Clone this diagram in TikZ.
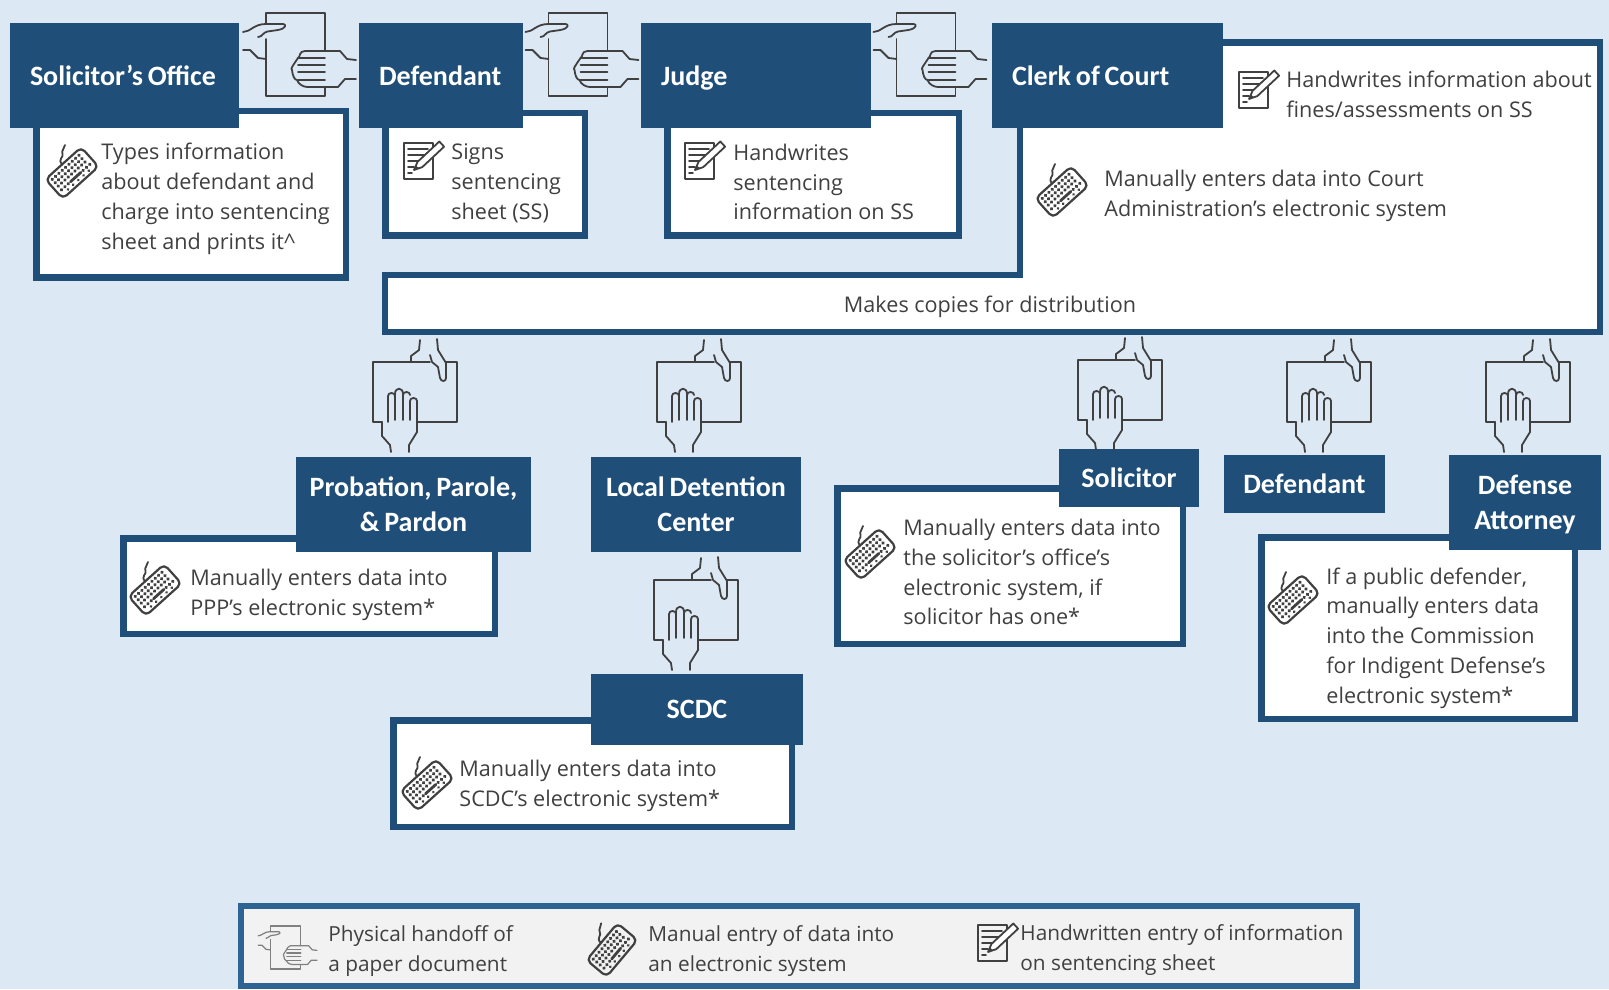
\documentclass[tikz,border=0pt]{standalone}
\usepackage{fontspec}
\setmainfont{Open Sans}
\newfontfamily\headfont[Ligatures=TeX]{Carlito}
\definecolor{pagebg}{HTML}{DDE8F5}
\definecolor{hdrblue}{HTML}{1F4E79}
\definecolor{inkgray}{HTML}{404040}
\definecolor{legendgray}{HTML}{F2F2F2}
\definecolor{legendline}{HTML}{2E6494}

\tikzset{
  headbox/.style={fill=hdrblue,text=white,inner sep=0pt,align=center,text depth=0pt,font=\headfont\bfseries\fontsize{14}{17.5}\selectfont,execute at begin node={\spaceskip=2.4pt\relax}},
  headleft/.style={headbox,inner xsep=10pt,text width=#1-20pt,align=left},
  notebox/.style={draw=hdrblue,fill=white,line width=3.25pt,inner sep=0pt},
  notetext/.style={anchor=west,align=left,inner sep=0pt,yshift=-1.5pt,text=inkgray,font=\fontsize{10.8}{14.9}\selectfont},
  keytext/.style={notetext,yshift=-0.5pt,font=\fontsize{10.4}{14.7}\selectfont},
  icon/.style={draw=inkgray,line width=0.9pt,line join=round,line cap=round},
  handoff/.pic={
    \draw[icon] (-29.5,-31) -- (-29.5,-41.5) -- (29.5,-41.5) -- (29.5,-3.5);
    \draw[icon] (-29.5,-15.5) -- (-29.5,41.5) -- (29.5,41.5) -- (29.5,32.5);
    \draw[icon] (-52.5,-22.5) .. controls (-45,-22.5) and (-42,-30.5) .. (-29.5,-30.5) -- (-12.5,-30.5)
      .. controls (-9,-30.5) and (-9,-26) .. (-17.5,-24.5) -- (-28,-23) .. controls (-33,-22) and (-33,-17.5) .. (-37.5,-17.5);
    \draw[icon] (-52.5,-4.5) -- (-45.5,-4.5) -- (-37.5,3.5) -- (-29.5,4.5);
    \draw[icon] (60.5,5.5) -- (51.5,4.5) -- (44.5,-3.5) -- (9.5,-3.5) .. controls (3,-3.5) and (5,3) .. (2.5,3.5)
      .. controls (-1,9) and (-6,15) .. (-3.5,15.5) .. controls (-3,21) and (-1,25.5) .. (1.5,25.5)
      .. controls (3,30) and (8,32.5) .. (12,32.5) -- (42.5,32.5) -- (49.5,24.5) -- (60.5,24.5);
    \foreach \fy in {3.5,10.5,17.5,25.5}
      \draw[icon] (2.5,\fy) -- (29.5,\fy);
  },
  handdown/.pic={
    \draw[icon] (15,-30) -- (-42,-30) -- (-42,30) -- (-33,30);
    \draw[icon] (31,-30) -- (42,-30) -- (42,30) -- (2,30);
    \draw[icon] (5,-52) -- (4,-42) -- (-4,-36) -- (-4,-30);
    \draw[icon] (15,-37) -- (17,-30) -- (23,-25) -- (25,-14) .. controls (26,-10) and (31,-10) .. (31,-14)
      -- (31,-29) -- (23,-42) -- (22,-53);
    \draw[icon] (-24,60) -- (-25,53) -- (-33,44) -- (-33,30);
    \draw[icon] (-6,60) -- (-6,53) -- (2,40) -- (2,9) .. controls (2,5) and (-5,5) .. (-5,9) -- (-5,28);
    \draw[icon] (-5,3) .. controls (-5,-1) and (-12,-1) .. (-12,3) -- (-12,28);
    \draw[icon] (-12,2) .. controls (-12,-5) and (-20,-5) .. (-20,2) -- (-20,28);
    \draw[icon] (-20,4) .. controls (-20,0) and (-27,0) .. (-27,4) -- (-27,30);
  },
  kbd/.pic={
    \draw[icon,line width=1.1pt,rounded corners=2.5pt] (-24,-13) rectangle (24,13);
    \foreach \ky in {-8.5,-4,0.5}
      \foreach \kx in {-19,-14.5,...,19}
        \fill[inkgray] (\kx,\ky) circle (1.9);
    \foreach \kx in {-19,-14.5,-10,10,14.5,19}
      \fill[inkgray] (\kx,5.5) circle (1.9);
    \draw[icon,line width=1.4pt] (-7,5.5) -- (7,5.5);
    \foreach \kx in {-14,-7,0,7,14}
      \fill[inkgray] (\kx,9.5) circle (1.5);
    \draw[icon] (-1.5,-13) .. controls (-2,-20) and (5,-17) .. (6,-21) .. controls (7,-24) and (11,-23) .. (13.5,-25.5);
  },
  penpad/.pic={
    \draw[icon] (-14,-18) rectangle (15,18);
    \draw[icon] (-10,-12) -- (10,-12) (-10,-6) -- (8,-6) (-10,0) -- (1,0) (-10,6) -- (-4,6) (-10,12) -- (-6,12);
    \draw[icon,fill=white] (-4,9) -- (-0.5,0.9) -- (21.3,-19.5) -- (26.1,-14.3) -- (4.3,6.1) -- cycle;
    \fill[inkgray] (-4,9) -- (-2.5,4.5) -- (1,7) -- cycle;
  },
}

\begin{document}
\begin{tikzpicture}[x=0.5pt,y=-0.5pt]
    \fill[pagebg] (0,0) rectangle (1609,989);
    \useasboundingbox (0,0) rectangle (1609,989);

    % white boxes first, the headers sit on top of them
    \node[notebox,minimum width=154.75pt,minimum height=83.25pt] (solbox) at (191,194.5) {};
    \node[notebox,minimum width=99.75pt,minimum height=61.25pt] (defbox) at (485,174.5) {};
    \node[notebox,minimum width=145.75pt,minimum height=61.25pt] (judgebox) at (813,174.5) {};
    \draw[notebox,line join=miter] (1020,42.5) -- (1600,42.5) -- (1600,332) -- (385,332) -- (385,275) -- (1020,275) -- cycle;
    \node[notebox,minimum width=185.75pt,minimum height=47.75pt] (pppbox) at (309,586) {};
    \node[notebox,minimum width=199.25pt,minimum height=53.25pt] (scdcbox) at (592.5,773.5) {};
    \node[notebox,minimum width=172.75pt,minimum height=77.75pt] (solitbox) at (1010,566) {};
    \node[notebox,minimum width=156.75pt,minimum height=90.75pt] (attybox) at (1418,628) {};

    \node[headleft=114.5pt,minimum height=52.5pt] (solhead) at (124.5,75.5) {\mbox{Solicitor's Office}};
    \node[headleft=82pt,minimum height=52.5pt] (defhead) at (441,75.5) {Defendant};
    \node[headleft=115pt,minimum height=52.5pt] (judgehead) at (756,75.5) {Judge};
    \node[headleft=115.5pt,minimum height=52.5pt] (clerkhead) at (1107.5,75.5) {Clerk of Court};
    \node[headbox,minimum width=117.5pt,minimum height=47.5pt] (ppphead) at (413.5,504.5) {Probation, Parole,\\\& Pardon};
    \node[headbox,minimum width=105pt,minimum height=47.5pt] (localhead) at (696,504.5) {Local Detention\\Center};
    \node[headbox,minimum width=106pt,minimum height=35.5pt] (scdchead) at (697,709.5) {SCDC};
    \node[headbox,minimum width=70pt,minimum height=29pt] (solithead) at (1129,478) {Solicitor};
    \node[headbox,minimum width=80.5pt,minimum height=29pt] (def2head) at (1304.5,484) {Defendant};
    \node[headbox,minimum width=76pt,minimum height=47.5pt] (attyhead) at (1525,502.5) {Defense\\Attorney};

    \node[notetext] (soltext) at (101,196) {Types information\\about defendant and\\charge into sentencing\\sheet and prints it\textasciicircum};
    \node[notetext] (deftext) at (451,180) {Signs\\sentencing\\sheet (SS)};
    \node[notetext] (judgetext) at (733,179) {Handwrites\\sentencing\\information on SS};
    \node[notetext] (clerktext) at (1286,91) {Handwrites information about\\fines/assessments on SS};
    \node[notetext] (entertext) at (1104,193) {Manually enters data into Court\\Administration's electronic system};
    \node[notetext,anchor=center] (copytext) at (990,304) {Makes copies for distribution};
    \node[notetext] (ppptext) at (190,592) {Manually enters data into\\PPP's electronic system*};
    \node[notetext] (scdctext) at (459,783) {Manually enters data into\\SCDC's electronic system*};
    \node[notetext] (solittext) at (903,569) {Manually enters data into\\the solicitor's office's\\electronic system, if\\solicitor has one*};
    \node[notetext] (attytext) at (1326,635) {If a public defender,\\manually enters data\\into the Commission\\for Indigent Defense's\\electronic system*};

    \pic (swap1) at (295.5,54.5) {handoff};
    \pic (swap2) at (578,54.5) {handoff};
    \pic (swap3) at (926,54.5) {handoff};
    \pic (give1) at (415,392) {handdown};
    \pic (give2) at (699,392) {handdown};
    \pic (give3) at (1120,390) {handdown};
    \pic (give4) at (1329,392) {handdown};
    \pic (give5) at (1528,392) {handdown};
    \pic (give6) at (696,610) {handdown};

    \pic[rotate=42] (kbd1) at (72,173) {kbd};
    \pic[rotate=42] (kbd2) at (1062,192) {kbd};
    \pic[rotate=42] (kbd3) at (155,590) {kbd};
    \pic[rotate=42] (kbd4) at (427,785) {kbd};
    \pic[rotate=42] (kbd5) at (870,554) {kbd};
    \pic[rotate=42] (kbd6) at (1293,600) {kbd};
    \pic (pen1) at (418,161) {penpad};
    \pic (pen2) at (699,161) {penpad};
    \pic (pen3) at (1253,90) {penpad};

    % legend
    \node[draw=legendline,fill=legendgray,line width=3pt,inner sep=0pt,minimum width=558pt,minimum height=40pt] (legend) at (799,946) {};
    \begin{scope}[icon/.append style={draw=gray,line width=0.6pt}]
      \pic[scale=0.52] (swapkey) at (285.5,947.5) {handoff};
    \end{scope}
    \pic[rotate=50] (kbdkey) at (612,950) {kbd};
    \pic (penkey) at (992,943) {penpad};
    \node[keytext] (keytext1) at (328,947) {Physical handoff of\\a paper document};
    \node[keytext] (keytext2) at (648,947) {Manual entry of data into\\an electronic system};
    \node[keytext] (keytext3) at (1020,946) {Handwritten entry of information\\on sentencing sheet};
\end{tikzpicture}
\end{document}
